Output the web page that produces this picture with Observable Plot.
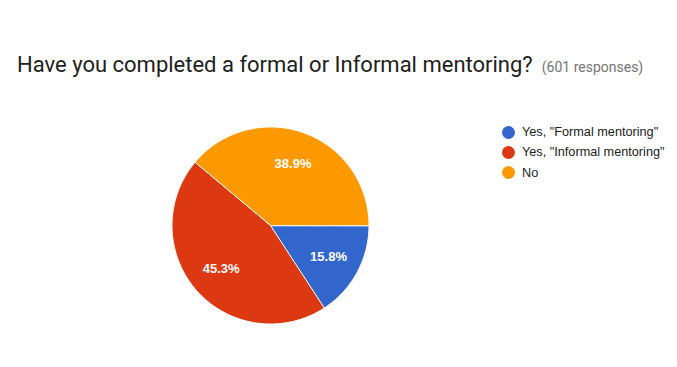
<!DOCTYPE html>
<html>
<head>
<meta charset="utf-8">
<script src="https://cdn.jsdelivr.net/npm/d3@7"></script>
<script src="https://cdn.jsdelivr.net/npm/@observablehq/plot@0.6"></script>
<style>
  html, body { margin: 0; padding: 0; background: #fff; }
  #wrap { position: relative; width: 677px; height: 367px; overflow: hidden; }
  #title { position: absolute; left: 17px; top: 52px; font-family: Roboto, sans-serif; white-space: nowrap; }
  #title .main { font-size: 22px; color: #212121; }
  #title .sub { font-size: 14px; color: #757575; margin-left: 9px; }
  #legend { position: absolute; left: 502px; top: 122px; font-family: "Liberation Sans", Arial, sans-serif; font-size: 12.7px; color: #222; }
  #legend .item { display: flex; align-items: center; height: 20.3px; }
  #legend .sw { width: 13px; height: 13px; border-radius: 50%; margin-right: 7px; }
  #chart { position: absolute; left: 0; top: 100px; }
</style>
</head>
<body>
<div id="wrap">
  <div id="title"><span class="main">Have you completed a formal or Informal mentoring?</span><span class="sub">(601 responses)</span></div>
  <div id="legend"></div>
  <div id="chart"></div>
</div>
<script>
const categories = ['Yes, "Formal mentoring"', 'Yes, "Informal mentoring"', 'No'];
const values = [15.8, 45.3, 38.9];
const colors = ["#3366cc", "#dc3912", "#ff9900"];

const total = d3.sum(values);
let acc = 0;
const slices = categories.map((c, i) => {
  const a0 = acc / total * 2 * Math.PI;
  acc += values[i];
  const a1 = acc / total * 2 * Math.PI;
  return {key: c, value: values[i], a0, a1};
});

const pts = [];
for (const s of slices) {
  pts.push({key: s.key, x: 0, y: 0});
  const n = Math.max(2, Math.ceil((s.a1 - s.a0) / (Math.PI / 180)));
  for (let k = 0; k <= n; k++) {
    const a = s.a0 + (s.a1 - s.a0) * k / n;
    pts.push({key: s.key, x: Math.cos(a), y: Math.sin(a)});
  }
}
const labels = slices.map(s => {
  const m = (s.a0 + s.a1) / 2;
  return {x: 0.67 * Math.cos(m), y: 0.67 * Math.sin(m), text: s.value.toFixed(1) + "%"};
});

const W = 677, H = 267;
const cx = 270, cy = 125, r = 98.5;
const chart = Plot.plot({
  width: W, height: H,
  marginLeft: cx - r, marginRight: W - (cx + r),
  marginTop: cy - r, marginBottom: H - (cy + r),
  x: {domain: [-1, 1], axis: null},
  y: {domain: [-1, 1], reverse: true, axis: null},
  color: {domain: categories, range: colors},
  style: {background: "transparent"},
  marks: [
    Plot.line(pts, {x: "x", y: "y", z: "key", fill: "key", stroke: "#fff", strokeWidth: 1, curve: "linear-closed"}),
    Plot.text(labels, {x: "x", y: "y", text: "text", fill: "#fff", fontSize: 13, fontWeight: "bold", fontFamily: "Liberation Sans, Arial, sans-serif"})
  ]
});
document.getElementById("chart").append(chart);

const lg = document.getElementById("legend");
categories.forEach((c, i) => {
  const it = document.createElement("div");
  it.className = "item";
  const sw = document.createElement("span");
  sw.className = "sw";
  sw.style.background = colors[i];
  const t = document.createElement("span");
  t.textContent = c;
  it.append(sw, t);
  lg.append(it);
});
</script>
</body>
</html>
